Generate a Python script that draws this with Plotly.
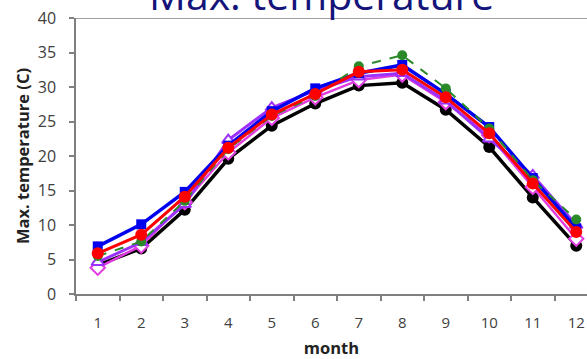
import plotly.graph_objects as go

months = list(range(1, 13))
tick_labels = [str(m) for m in months]

black_vals   = [4.2, 6.6, 12.2, 19.6, 24.4, 27.6, 30.2, 30.6, 26.7, 21.3, 14.0, 7.0]
magenta_vals = [3.8, 7.0, 13.3, 20.5, 25.5, 28.5, 31.0, 31.8, 27.8, 23.0, 15.5, 8.0]
purple_vals  = [4.6, 7.5, 13.0, 22.3, 27.0, 29.5, 31.5, 32.0, 28.0, 22.5, 17.2, 10.0]
blue_vals    = [6.9, 10.1, 14.8, 21.5, 26.5, 29.8, 32.0, 33.2, 29.0, 24.2, 16.8, 9.5]
green_vals   = [5.5, 7.6, 13.5, 21.0, 25.8, 28.7, 33.0, 34.6, 29.8, 24.0, 16.5, 10.8]
red_vals     = [5.9, 8.6, 14.1, 21.2, 26.0, 29.0, 32.2, 32.5, 28.5, 23.3, 16.0, 9.0]

fig = go.Figure()

def add(vals, color, symbol, size, width, dash="solid", mfill=None, mline=None):
    fig.add_trace(go.Scatter(
        x=months, y=vals, mode="lines+markers",
        line=dict(color=color, width=width, dash=dash),
        marker=dict(symbol=symbol, size=size, color=mfill or color,
                    line=dict(color=color, width=mline if mline is not None else 0)),
        showlegend=False))

add(black_vals, "#000000", "circle", 12, 3.5)
add(magenta_vals, "#e03ce0", "diamond", 11, 2.5, mfill="#ffffff", mline=2)
add(purple_vals, "#9b30ff", "triangle-up", 11, 3, mfill="#ffffff", mline=2)
add(blue_vals, "#0000ee", "square", 10, 3.5)
add(green_vals, "#2a8a2a", "circle", 10, 2, dash="dash")
add(red_vals, "#ff0000", "circle", 12, 3)

fig.add_shape(type="line", xref="paper", yref="y", x0=0, x1=1, y0=40, y1=40,
              line=dict(color="#808080", width=1.5))

fig.add_annotation(text="Max. temperature", xref="paper", yref="paper",
                   x=0.481, y=0.98, xanchor="center", yanchor="bottom",
                   showarrow=False, font=dict(family="Open Sans", size=41, color="#14147a"))

fig.update_layout(
    width=587, height=359,
    margin=dict(l=76, r=0, t=18, b=65),
    paper_bgcolor="white", plot_bgcolor="white",
    font=dict(family="Open Sans", color="#404040"),
    xaxis=dict(range=[0.5, 12.247], tickvals=months, ticktext=tick_labels,
               ticks="outside", ticklen=14, tickcolor="rgba(0,0,0,0)",
               showgrid=False, zeroline=False, showline=True, linecolor="#808080",
               linewidth=1.5, tickfont=dict(size=15, color="#404040"),
               minor=dict(ticks="outside", tick0=0.5, dtick=1, ticklen=5,
                          tickcolor="#808080", tickwidth=1.5, showgrid=False),
               title=dict(text="<b>month</b>", font=dict(size=16.5, color="#222"), standoff=14)),
    yaxis=dict(range=[0, 40], dtick=5, ticks="outside", ticklen=5, tickcolor="#808080",
               tickwidth=1.5, showgrid=False, zeroline=False, showline=True,
               linecolor="#808080", linewidth=1.5, ticklabelstandoff=10,
               tickfont=dict(size=16, color="#404040"),
               title=dict(text="<b>Max. temperature (C)</b>", font=dict(size=16.5, color="#222"),
                          standoff=4)),
)

fig.write_html("out.html")
